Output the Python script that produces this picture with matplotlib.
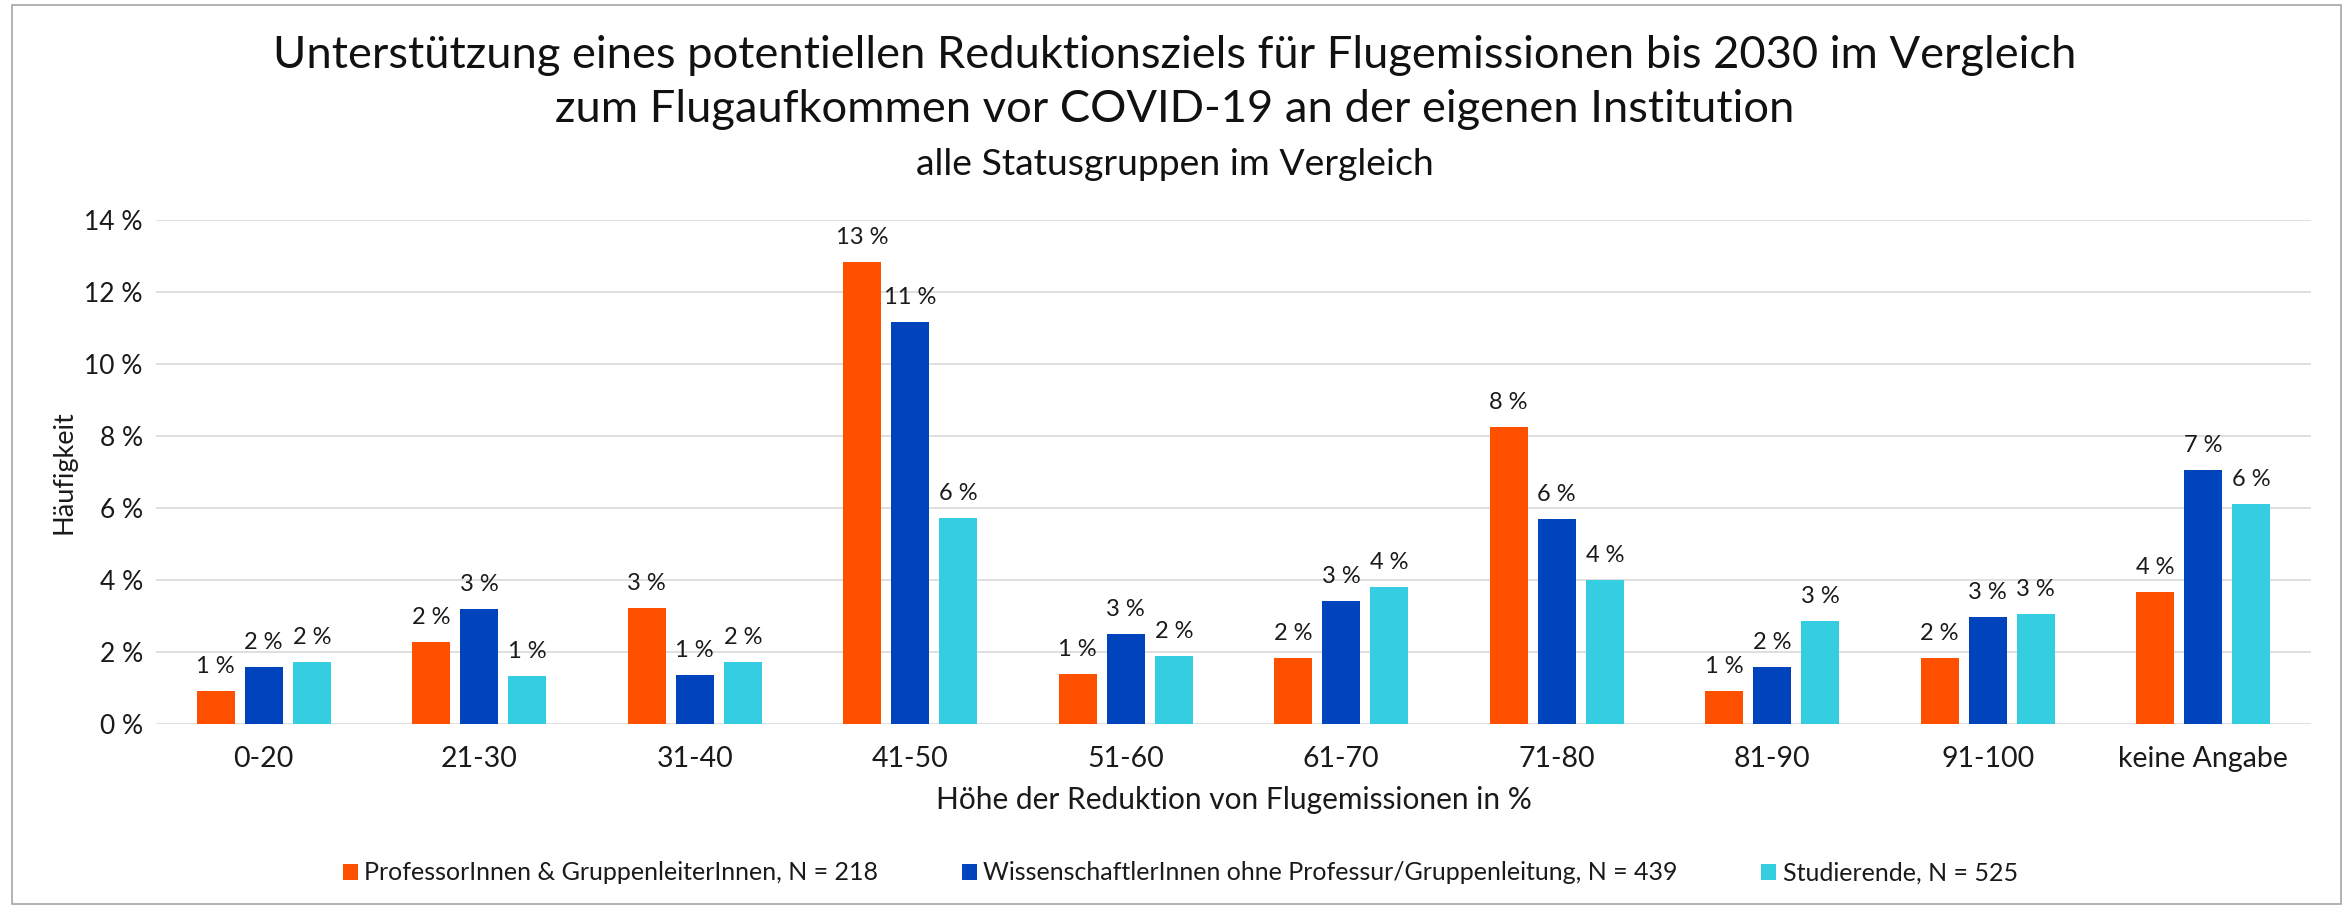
import matplotlib.pyplot as plt
import numpy as np
from matplotlib.patches import Rectangle, Patch

plt.rcParams['font.family'] = ['Lato', 'DejaVu Sans']

categories = ["0-20", "21-30", "31-40", "41-50", "51-60", "61-70", "71-80", "81-90", "91-100", "keine Angabe"]
professoren = [0.92, 2.29, 3.21, 12.84, 1.38, 1.83, 8.26, 0.92, 1.83, 3.67]
wissenschaftler = [1.59, 3.19, 1.37, 11.16, 2.51, 3.42, 5.69, 1.59, 2.96, 7.06]
studierende = [1.71, 1.33, 1.71, 5.71, 1.90, 3.81, 4.00, 2.86, 3.05, 6.10]
series_names = ["ProfessorInnen & GruppenleiterInnen, N = 218",
                "WissenschaftlerInnen ohne Professur/Gruppenleitung, N = 439",
                "Studierende, N = 525"]
colors = ["#FF5000", "#0044BD", "#34CDE2"]
yticks = [0, 2, 4, 6, 8, 10, 12, 14]

W, H = 2351, 907
fig = plt.figure(figsize=(W / 100, H / 100), dpi=100)
ax = fig.add_axes([156 / W, 1 - 724 / H, (2311 - 156) / W, (724 - 220) / H])

x = np.arange(len(categories))
bar_w = 0.176
step = 0.223
for i, (vals, col) in enumerate(zip([professoren, wissenschaftler, studierende], colors)):
    pos = x + (i - 1) * step
    ax.bar(pos, vals, width=bar_w, color=col, zorder=3)
    for p, v in zip(pos, vals):
        ax.annotate(f"{v:.0f} %", (p, v), xytext=(0, 13), textcoords="offset points",
                    ha="center", va="baseline", fontsize=17, color="#1a1a1a")

ax.set_xlim(-0.5, len(categories) - 0.5)
ax.set_ylim(0, 14)
ax.set_yticks(yticks)
ax.set_yticklabels([f"{t} %" for t in yticks])
ax.set_xticks(x)
ax.set_xticklabels(categories)
ax.tick_params(axis="both", length=0, colors="#1a1a1a")
ax.tick_params(axis="y", pad=9.5, labelsize=19)
ax.tick_params(axis="x", pad=16, labelsize=20.5)
ax.grid(axis="y", color="#D9D9D9", linewidth=1.2, zorder=0)
for s in ax.spines.values():
    s.set_visible(False)

ax.set_xlabel("Höhe der Reduktion von Flugemissionen in %", fontsize=21.5, va="center", color="#1a1a1a")
ax.xaxis.set_label_coords(0.5, (724 - 800) / 504)
ax.set_ylabel("Häufigkeit", fontsize=19.5, va="center", color="#1a1a1a")
ax.yaxis.set_label_coords((64 - 156) / 2155, 0.5)

fig.text(0.4998, 1 - 68 / H, "Unterstützung eines potentiellen Reduktionsziels für Flugemissionen bis 2030 im Vergleich",
         ha="center", va="baseline", fontsize=32.6, color="#111111")
fig.text(0.4998, 1 - 122 / H, "zum Flugaufkommen vor COVID-19 an der eigenen Institution",
         ha="center", va="baseline", fontsize=32.6, color="#111111")
fig.text(0.4998, 1 - 175 / H, "alle Statusgruppen im Vergleich",
         ha="center", va="baseline", fontsize=26.9, color="#111111")

handles = [Patch(facecolor=c, edgecolor="none") for c in colors]
fig.legend(handles, series_names, loc="center", bbox_to_anchor=(0.502, 1 - 873 / H), ncol=3,
           frameon=False, fontsize=18, handlelength=0.6, handleheight=0.6,
           handletextpad=0.25, columnspacing=3.35, labelcolor="#1a1a1a")

fig.add_artist(Rectangle((12 / W, 1 - 904 / H), (2341 - 12) / W, (904 - 5) / H,
                         transform=fig.transFigure, fill=False, edgecolor="#A6A6A6", linewidth=1.2))

fig.savefig("out.png", dpi=100)
